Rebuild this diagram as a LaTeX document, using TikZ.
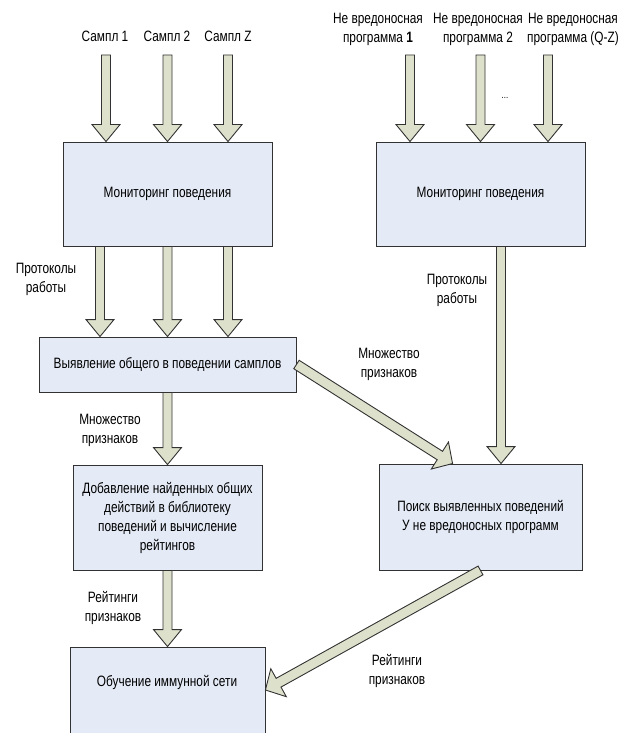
\documentclass[tikz,border=0pt]{standalone}
\usepackage{fontspec}
\setmainfont{Liberation Sans}[FakeStretch=0.79]
\usetikzlibrary{calc}
\definecolor{boxfill}{RGB}{228,234,246}
\definecolor{arrfill}{RGB}{221,225,204}
\definecolor{lineclr}{RGB}{50,50,50}
\tikzset{
  box/.style={draw=lineclr, fill=boxfill, line width=0.9pt, inner sep=2pt, align=center},
  lbl/.style={inner sep=0pt, align=center},
  vshape/.code={\def\bsw{4.5pt}\def\bhw{14pt}\def\bhl{17pt}},
  dshape/.code={\def\bsw{5pt}\def\bhw{16pt}\def\bhl{15pt}},
  barrow/.style={draw=lineclr, fill=arrfill, line width=0.9pt, line join=miter,
    to path={let \p1=(\tikztostart), \p2=(\tikztotarget), \n1={atan2(\y2-\y1,\x2-\x1)} in
      ($(\p1)+(\n1+90:\bsw)$) -- ($(\p2)+(\n1+180:\bhl)+(\n1+90:\bsw)$)
      -- ($(\p2)+(\n1+180:\bhl)+(\n1+90:\bhw)$) -- (\p2)
      -- ($(\p2)+(\n1+180:\bhl)+(\n1-90:\bhw)$) -- ($(\p2)+(\n1+180:\bhl)+(\n1-90:\bsw)$)
      -- ($(\p1)+(\n1-90:\bsw)$) -- cycle}},
}
\begin{document}
\begin{tikzpicture}[x=1pt,y=-1pt,font=\fontsize{15}{19}\selectfont]
\useasboundingbox (0,0) rectangle (629,733);
\fill[white] (0,0) rectangle (629,733);

% boxes
\node[box, minimum width=209pt, minimum height=104pt] (m1) at (167.5,194) {Мониторинг поведения};
\node[box, minimum width=209pt, minimum height=104pt] (m2) at (480.5,194) {Мониторинг поведения};
\node[box, minimum width=257pt, minimum height=55pt] (v) at (167.5,364.5) {Выявление общего в поведении самплов};
\node[box, minimum width=189pt, minimum height=105pt] (d) at (167.5,517.5) {Добавление найденных общих\\действий в библиотеку\\поведений и вычисление\\рейтингов};
\node[box, minimum width=203pt, minimum height=106pt] (s) at (480.5,517) {Поиск выявленных поведений\\У не вредоносных программ};
\node[box, minimum width=195pt, minimum height=103pt] (o) at (167.5,698.5) {};
\node[lbl] (ot) at (167,682) {Обучение иммунной сети};

% labels
\node[lbl] (c1) at (105,36) {Сампл 1};
\node[lbl] (c2) at (167,36) {Сампл 2};
\node[lbl] (c3) at (228,36) {Сампл Z};
\node[lbl] (n1) at (378,29) {Не вредоносная\\программа \textbf{1}};
\node[lbl] (n2) at (478,29) {Не вредоносная\\программа 2};
\node[lbl] (n3) at (573,29) {Не вредоносная\\программа (Q-Z)};
\node[lbl, font=\fontsize{10}{12}\selectfont] (dots) at (505,98) {...};
\node[lbl] (p1) at (46,279) {Протоколы\\работы};
\node[lbl] (p2) at (457,290) {Протоколы\\работы};
\node[lbl] (mz1) at (389,364) {Множество\\признаков};
\node[lbl] (mz2) at (110,430) {Множество\\признаков};
\node[lbl] (r1) at (113,608) {Рейтинги\\признаков};
\node[lbl] (r2) at (397,670.5) {Рейтинги\\признаков};

% free arrow starts
\coordinate (a1) at (106,55);
\coordinate (a2) at (167.5,55);
\coordinate (a3) at (228,55);
\coordinate (b1) at (410,55);
\coordinate (b2) at (480.5,55);
\coordinate (b3) at (548,55);

% arrows
\draw[vshape,barrow] (a1) to ([xshift=-61.5pt]m1.north);
\draw[vshape,barrow] (a2) to (m1.north);
\draw[vshape,barrow] (a3) to ([xshift=60.5pt]m1.north);
\draw[vshape,barrow] (b1) to ([xshift=-70.5pt]m2.north);
\draw[vshape,barrow] (b2) to (m2.north);
\draw[vshape,barrow] (b3) to ([xshift=67.5pt]m2.north);

\draw[vshape,barrow] ([xshift=-67.5pt]m1.south) to ([xshift=-67.5pt]v.north);
\draw[vshape,barrow] (m1.south) to (v.north);
\draw[vshape,barrow] ([xshift=60.5pt]m1.south) to ([xshift=60.5pt]v.north);
\draw[vshape,barrow] ([xshift=20.5pt]m2.south) to ([xshift=20.5pt]s.north);
\draw[vshape,barrow] (v.south) to (d.north);
\draw[vshape,barrow] (d.south) to (o.north);
\draw[dshape,barrow] (v.east) to ([xshift=74pt]s.north west);
\draw[dshape,barrow] (s.south) to ([yshift=8.5pt]o.east);
\end{tikzpicture}
\end{document}
